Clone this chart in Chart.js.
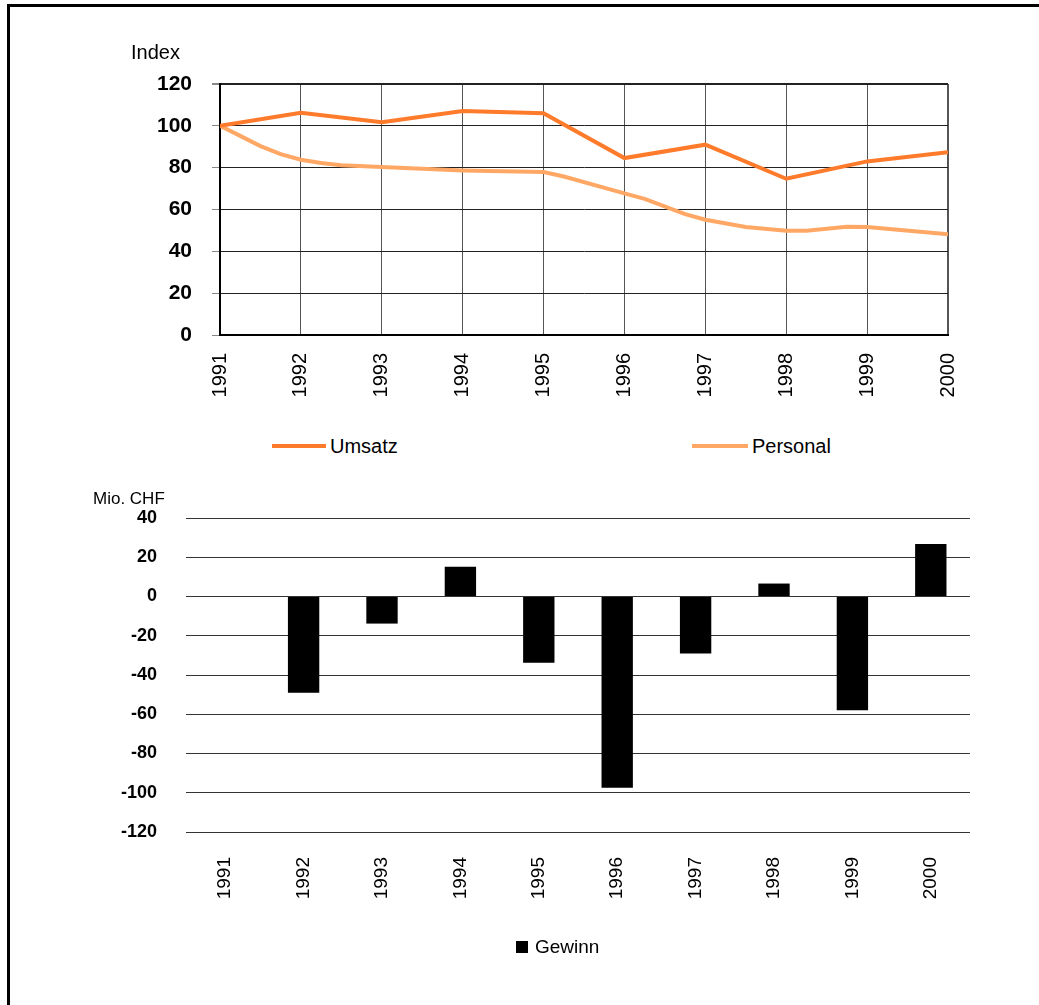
<!DOCTYPE html>
<html lang="de">
<head>
<meta charset="utf-8">
<title>Umsatz, Personal und Gewinn 1991–2000</title>
<script src="https://cdn.jsdelivr.net/npm/chart.js@4.4.1/dist/chart.umd.min.js"></script>
<style>
  html, body { margin: 0; padding: 0; background: #fff; }
  body { width: 1039px; height: 1005px; position: relative; overflow: hidden;
         font-family: 'Liberation Sans', Arial, sans-serif; color: #000; }
  .frame { position: absolute; left: 7px; top: 4px; width: 1032px; height: 1001px;
           border-top: 3px solid #000; border-left: 3px solid #000; box-sizing: border-box; }
  canvas { position: absolute; left: 0; }
  #indexChart { top: 0; }
  #gewinnChart { top: 460px; }
  .unit { position: absolute; line-height: 1; white-space: nowrap; }
  .legend-item { position: absolute; height: 24px; display: flex; align-items: center; white-space: nowrap; }
</style>
</head>
<body>
<div class="frame"></div>
<canvas id="indexChart" width="1039" height="420"></canvas>
<canvas id="gewinnChart" width="1039" height="545"></canvas>
<div class="unit" style="left:131px; top:42px; font-size:20px;">Index</div>
<div class="unit" style="left:93px; top:490px; font-size:17px;">Mio. CHF</div>
<div id="indexLegend"></div>
<div id="gewinnLegend"></div>
<script>
const years = [1991, 1992, 1993, 1994, 1995, 1996, 1997, 1998, 1999, 2000];

// Index 1991 = 100
const umsatz = [100, 106.3, 101.7, 107.1, 106.0, 84.6, 91.0, 74.7, 83.0, 87.4];

// Personal is reported in finer steps than whole years
const personalYears = [1991, 1991.25, 1991.5, 1991.75, 1992, 1992.25, 1992.5, 1993, 1994, 1995,
                       1995.25, 1996, 1996.25, 1996.75, 1997, 1997.5, 1998, 1998.25, 1998.75, 1999, 2000];
const personal = [100, 95.2, 90.3, 86.5, 83.8, 82.2, 81.2, 80.3, 78.7, 77.9,
                  75.8, 67.7, 65.1, 57.8, 55.1, 51.6, 49.8, 49.8, 51.7, 51.6, 48.2];

// Gewinn in Mio. CHF
const gewinn = [null, -49.1, -13.8, 15.1, -33.8, -97.5, -29.0, 6.6, -57.9, 26.7];

const umsatzColor = '#ff7b2c';
const personalColor = '#ffa866';
const gewinnColor = '#000000';

Chart.defaults.font.family = "'Liberation Sans', Arial, sans-serif";
Chart.defaults.color = '#000';

new Chart(document.getElementById('indexChart'), {
  type: 'line',
  data: {
    datasets: [
      {
        label: 'Umsatz',
        data: years.map((x, i) => ({ x: x, y: umsatz[i] })),
        borderColor: umsatzColor,
        borderWidth: 4,
        pointRadius: 0,
        tension: 0
      },
      {
        label: 'Personal',
        data: personalYears.map((x, i) => ({ x: x, y: personal[i] })),
        borderColor: personalColor,
        borderWidth: 4,
        pointRadius: 0,
        tension: 0
      }
    ]
  },
  options: {
    responsive: false,
    animation: false,
    layout: { padding: { top: 84, right: 91, left: 0, bottom: 0 } },
    plugins: { legend: { display: false }, tooltip: { enabled: false } },
    scales: {
      x: {
        type: 'linear',
        min: 1991,
        max: 2000,
        afterFit: (scale) => { scale.height = 85; },
        ticks: {
          stepSize: 1,
          minRotation: 90,
          maxRotation: 90,
          padding: 18,
          font: { size: 20 },
          callback: (v) => String(v)
        },
        grid: {
          color: '#555',
          drawTicks: false,
          lineWidth: (c) => (c.tick && c.tick.value === 2000 ? 2 : 1)
        },
        border: { color: '#000', width: 2 }
      },
      y: {
        min: 0,
        max: 120,
        afterFit: (scale) => { scale.width = 220; },
        ticks: { stepSize: 20, padding: 20, font: { size: 21, weight: 'bold' } },
        grid: {
          color: '#222',
          tickColor: '#888',
          tickLength: 8,
          lineWidth: (c) => (c.tick && c.tick.value === 120 ? 2 : 1)
        },
        border: { color: '#000', width: 2 }
      }
    }
  }
});

new Chart(document.getElementById('gewinnChart'), {
  type: 'bar',
  data: {
    labels: years.map(String),
    datasets: [{
      label: 'Gewinn',
      data: gewinn,
      backgroundColor: gewinnColor,
      barPercentage: 0.8,
      categoryPercentage: 0.5
    }]
  },
  options: {
    responsive: false,
    animation: false,
    layout: { padding: { top: 58, right: 69, left: 0, bottom: 0 } },
    plugins: { legend: { display: false }, tooltip: { enabled: false } },
    scales: {
      x: {
        afterFit: (scale) => { scale.height = 173; },
        ticks: { minRotation: 90, maxRotation: 90, padding: 17, font: { size: 19 } },
        grid: { display: false },
        border: { display: false }
      },
      y: {
        min: -120,
        max: 40,
        afterFit: (scale) => { scale.width = 186; },
        ticks: { stepSize: 20, padding: 29, font: { size: 18, weight: 'bold' } },
        grid: { color: '#333', drawTicks: false },
        border: { display: false }
      }
    }
  }
});

// legends under each chart
function legendItem(parent, left, centerY, swatch, text, fontSize, gap) {
  const item = document.createElement('div');
  item.className = 'legend-item';
  item.style.left = left + 'px';
  item.style.top = (centerY - 12) + 'px';
  const box = document.createElement('span');
  box.style.display = 'inline-block';
  box.style.width = swatch.w + 'px';
  box.style.height = swatch.h + 'px';
  box.style.background = swatch.color;
  const label = document.createElement('span');
  label.textContent = text;
  label.style.fontSize = fontSize + 'px';
  label.style.marginLeft = gap + 'px';
  item.appendChild(box);
  item.appendChild(label);
  parent.appendChild(item);
}

const indexLegend = document.getElementById('indexLegend');
legendItem(indexLegend, 272, 446, { w: 54, h: 4, color: umsatzColor }, 'Umsatz', 20, 4);
legendItem(indexLegend, 692, 446, { w: 56, h: 4, color: personalColor }, 'Personal', 20, 4);

const gewinnLegend = document.getElementById('gewinnLegend');
legendItem(gewinnLegend, 516, 947, { w: 12, h: 12, color: gewinnColor }, 'Gewinn', 19, 7);
</script>
</body>
</html>
